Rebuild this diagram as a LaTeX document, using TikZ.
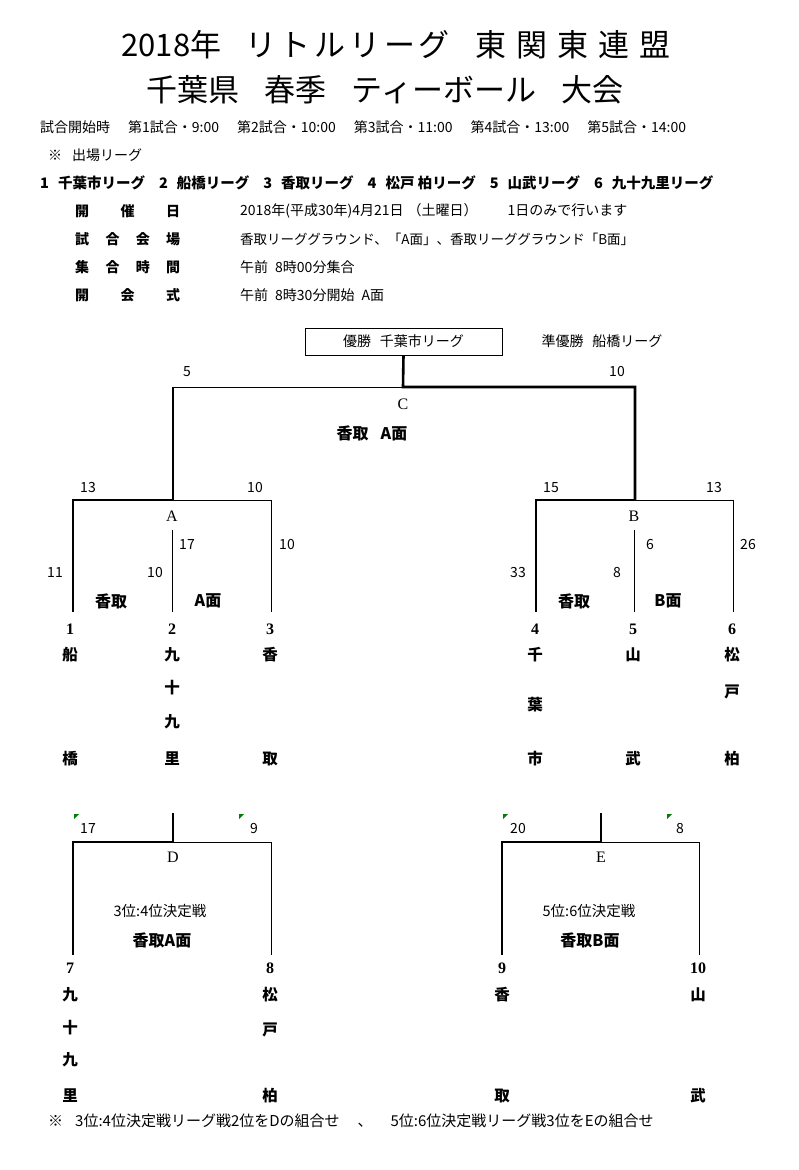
\documentclass[tikz,border=0pt]{standalone}
\usepackage{fontspec}
\setmainfont{Noto Sans CJK JP}
\newfontfamily\latinserif{Liberation Serif}
\usetikzlibrary{positioning}

\tikzset{
  win/.style={line width=2.6pt},
  lose/.style={line width=0.8pt},
  title/.style={font=\fontsize{31}{31}\selectfont},
  info/.style={anchor=west, inner sep=0pt, font=\fontsize{14}{14}\selectfont},
  infohead/.style={anchor=west, inner sep=0pt, font=\fontsize{14}{14}\selectfont\bfseries},
  score/.style={font=\fontsize{14}{14}\selectfont},
  matchlab/.style={font=\fontsize{16}{16}\selectfont\latinserif},
  team/.style={font=\fontsize{15.5}{15.5}\selectfont\bfseries},
  court/.style={font=\fontsize{16}{16}\selectfont\bfseries},
  flag/.style={fill=green!50!black},
}

\begin{document}
\begin{tikzpicture}[x=1pt, y=-1pt]
  \useasboundingbox (0,0) rectangle (799,1170);

  % Title
  \node[title] (title1) at (396,45) {2018年\hspace{24pt}{\addfontfeature{LetterSpace=12}リトルリーグ}\hspace{26pt}{\addfontfeature{LetterSpace=32}東関東連盟}};
  \node[title] (title2) at (385,90) {千葉県\hspace{25pt}春季\hspace{25pt}ティーボール\hspace{25pt}大会};

  % Schedule and leagues
  \node[info] (times) at (40,127) {試合開始時\hspace{18pt}第1試合・9:00\hspace{18pt}第2試合・10:00\hspace{18pt}第3試合・11:00\hspace{18pt}第4試合・13:00\hspace{18pt}第5試合・14:00};
  \node[info] (leaguehead) at (48,155) {※\hspace{10pt}出場リーグ};
  \node[info, font=\fontsize{14.5}{14.5}\selectfont\bfseries] (leagues) at (40,183) {1\hspace{9pt}千葉市リーグ\hspace{14pt}2\hspace{9pt}船橋リーグ\hspace{14pt}3\hspace{9pt}香取リーグ\hspace{14pt}4\hspace{9pt}松戸 柏リーグ\hspace{14pt}5\hspace{9pt}山武リーグ\hspace{14pt}6\hspace{9pt}九十九里リーグ};

  % Details
  \node[infohead] (h1) at (75,211) {\makebox[105pt][s]{開\hfill 催\hfill 日}};
  \node[infohead] (h2) at (75,239) {\makebox[105pt][s]{試\hfill 合\hfill 会\hfill 場}};
  \node[infohead] (h3) at (75,267) {\makebox[105pt][s]{集\hfill 合\hfill 時\hfill 間}};
  \node[infohead] (h4) at (75,295) {\makebox[105pt][s]{開\hfill 会\hfill 式}};
  \node[info] (v1) at (240,211) {2018年(平成30年)4月21日\hspace{4pt}（土曜日）\hspace{30pt}1日のみで行います};
  \node[info, font=\fontsize{13.5}{13.5}\selectfont] (v2) at (240,239) {香取リーググラウンド、「A面」、香取リーググラウンド「B面」};
  \node[info] (v3) at (240,267) {午前\hspace{7pt}8時00分集合};
  \node[info] (v4) at (240,295) {午前\hspace{7pt}8時30分開始\hspace{7pt}A面};

  % Champion box
  \node[draw, minimum width=197pt, minimum height=27pt, font=\fontsize{14}{14}\selectfont] (champ) at (403.5,341.5) {優勝\hspace{9pt}千葉市リーグ};
  \node[font=\fontsize{14}{14}\selectfont] (runner) at (602,341) {準優勝\hspace{9pt}船橋リーグ};

  % Final C
  \coordinate (Cj) at (403,387);
  \coordinate (CL) at (173,387);
  \coordinate (CR) at (635,387);
  \coordinate (Aj) at (173,500);
  \coordinate (Bj) at (635,500);
  \draw[win] (champ.south) -- (Cj) -- (CR) -- (Bj);
  \draw[lose] (CL) -- (Cj);
  \draw[win] (CL) -- (Aj);
  \node[score] (sC1) at (187,372) {5};
  \node[score] (sC2) at (617,372) {10};
  \node[matchlab] (Clab) at (403,404) {C};
  \node[court] (Ccourt) at (372,433) {香取\hspace{12pt}A面};

  % Group A
  \coordinate (AL) at (73,500);
  \coordinate (AR) at (271,500);
  \coordinate (A1) at (73,612);
  \coordinate (A2t) at (172,530);
  \coordinate (A2) at (172,612);
  \coordinate (A3) at (271,612);
  \draw[win] (Aj) -- (AL) -- (A1);
  \draw[lose] (Aj) -- (AR) -- (A3);
  \draw[lose] (A2t) -- (A2);
  \node[matchlab] (Alab) at (172,516) {A};
  \node[score] (sA1) at (88,488) {13};
  \node[score] (sA2) at (255,488) {10};
  \node[score] (sA3) at (187,545) {17};
  \node[score] (sA4) at (287,545) {10};
  \node[score] (sA5) at (55,573) {11};
  \node[score] (sA6) at (155,573) {10};
  \node[court] (Acourt1) at (111,601) {香取};
  \node[court] (Acourt2) at (208,601) {A面};

  % Group B
  \coordinate (BL) at (536,500);
  \coordinate (BR) at (733,500);
  \coordinate (B4) at (536,612);
  \coordinate (B5t) at (634,530);
  \coordinate (B5) at (634,612);
  \coordinate (B6) at (733,612);
  \draw[win] (Bj) -- (BL) -- (B4);
  \draw[lose] (Bj) -- (BR) -- (B6);
  \draw[lose] (B5t) -- (B5);
  \node[matchlab] (Blab) at (634,516) {B};
  \node[score] (sB1) at (551,488) {15};
  \node[score] (sB2) at (714,488) {13};
  \node[score] (sB3) at (650,545) {6};
  \node[score] (sB4) at (748,545) {26};
  \node[score] (sB5) at (518,573) {33};
  \node[score] (sB6) at (617,573) {8};
  \node[court] (Bcourt1) at (574,601) {香取};
  \node[court] (Bcourt2) at (668,601) {B面};

  % Teams of the groups
  \foreach \n/\x in {1/70, 2/172, 3/270, 4/535, 5/633, 6/732}
    \node[team, font=\fontsize{16}{16}\selectfont\latinserif\bfseries] (t\n) at (\x,629) {\n};
  \foreach \c/\y [count=\i] in {船/655, 橋/759}
    \node[team] (t1c\i) at (70,\y) {\c};
  \foreach \c/\y [count=\i] in {九/655, 十/688, 九/722, 里/759}
    \node[team] (t2c\i) at (172,\y) {\c};
  \foreach \c/\y [count=\i] in {香/655, 取/759}
    \node[team] (t3c\i) at (270,\y) {\c};
  \foreach \c/\y [count=\i] in {千/655, 葉/705, 市/759}
    \node[team] (t4c\i) at (535,\y) {\c};
  \foreach \c/\y [count=\i] in {山/655, 武/759}
    \node[team] (t5c\i) at (633,\y) {\c};
  \foreach \c/\y [count=\i] in {松/655, 戸/692, 柏/759}
    \node[team] (t6c\i) at (732,\y) {\c};

  % Match D
  \coordinate (Dt) at (173,813);
  \coordinate (Dj) at (173,842);
  \coordinate (DL) at (73,842);
  \coordinate (DR) at (271,842);
  \coordinate (D7) at (73,955);
  \coordinate (D8) at (271,955);
  \draw[win] (Dt) -- (Dj) -- (DL) -- (D7);
  \draw[lose] (Dj) -- (DR) -- (D8);
  \node[matchlab] (Dlab) at (173,857) {D};
  \node[score] (sD1) at (88,828) {17};
  \node[score] (sD2) at (254,828) {9};
  \fill[flag] (74,814) -- (79,814) -- (74,819) -- cycle;
  \fill[flag] (239,814) -- (244,814) -- (239,819) -- cycle;
  \node[font=\fontsize{14.5}{14.5}\selectfont] (Dnote) at (160,911) {3位:4位決定戦};
  \node[court] (Dcourt) at (162,940) {香取A面};

  % Match E
  \coordinate (Et) at (601,813);
  \coordinate (Ej) at (601,842);
  \coordinate (EL) at (502,842);
  \coordinate (ER) at (699,842);
  \coordinate (E9) at (502,955);
  \coordinate (E10) at (699,955);
  \draw[win] (Et) -- (Ej) -- (EL) -- (E9);
  \draw[lose] (Ej) -- (ER) -- (E10);
  \node[matchlab] (Elab) at (601,857) {E};
  \node[score] (sE1) at (518,828) {20};
  \node[score] (sE2) at (680,828) {8};
  \fill[flag] (503,814) -- (508,814) -- (503,819) -- cycle;
  \fill[flag] (667,814) -- (672,814) -- (667,819) -- cycle;
  \node[font=\fontsize{14.5}{14.5}\selectfont] (Enote) at (589,911) {5位:6位決定戦};
  \node[court] (Ecourt) at (590,940) {香取B面};

  % Teams of the placement matches
  \foreach \n/\x in {7/70, 8/270, 9/502, 10/698}
    \node[team, font=\fontsize{16}{16}\selectfont\latinserif\bfseries] (t\n) at (\x,968) {\n};
  \foreach \c/\y [count=\i] in {九/995, 十/1028, 九/1060, 里/1096}
    \node[team] (t7c\i) at (70,\y) {\c};
  \foreach \c/\y [count=\i] in {松/995, 戸/1030, 柏/1096}
    \node[team] (t8c\i) at (270,\y) {\c};
  \foreach \c/\y [count=\i] in {香/995, 取/1096}
    \node[team] (t9c\i) at (502,\y) {\c};
  \foreach \c/\y [count=\i] in {山/995, 武/1096}
    \node[team] (t10c\i) at (698,\y) {\c};

  % Footnote
  \node[info, font=\fontsize{15}{15}\selectfont] (foot) at (48,1121) {※\hspace{12pt}3位:4位決定戦リーグ戦2位をDの組合せ\hspace{18pt}、\hspace{18pt}5位:6位決定戦リーグ戦3位をEの組合せ};
\end{tikzpicture}
\end{document}
